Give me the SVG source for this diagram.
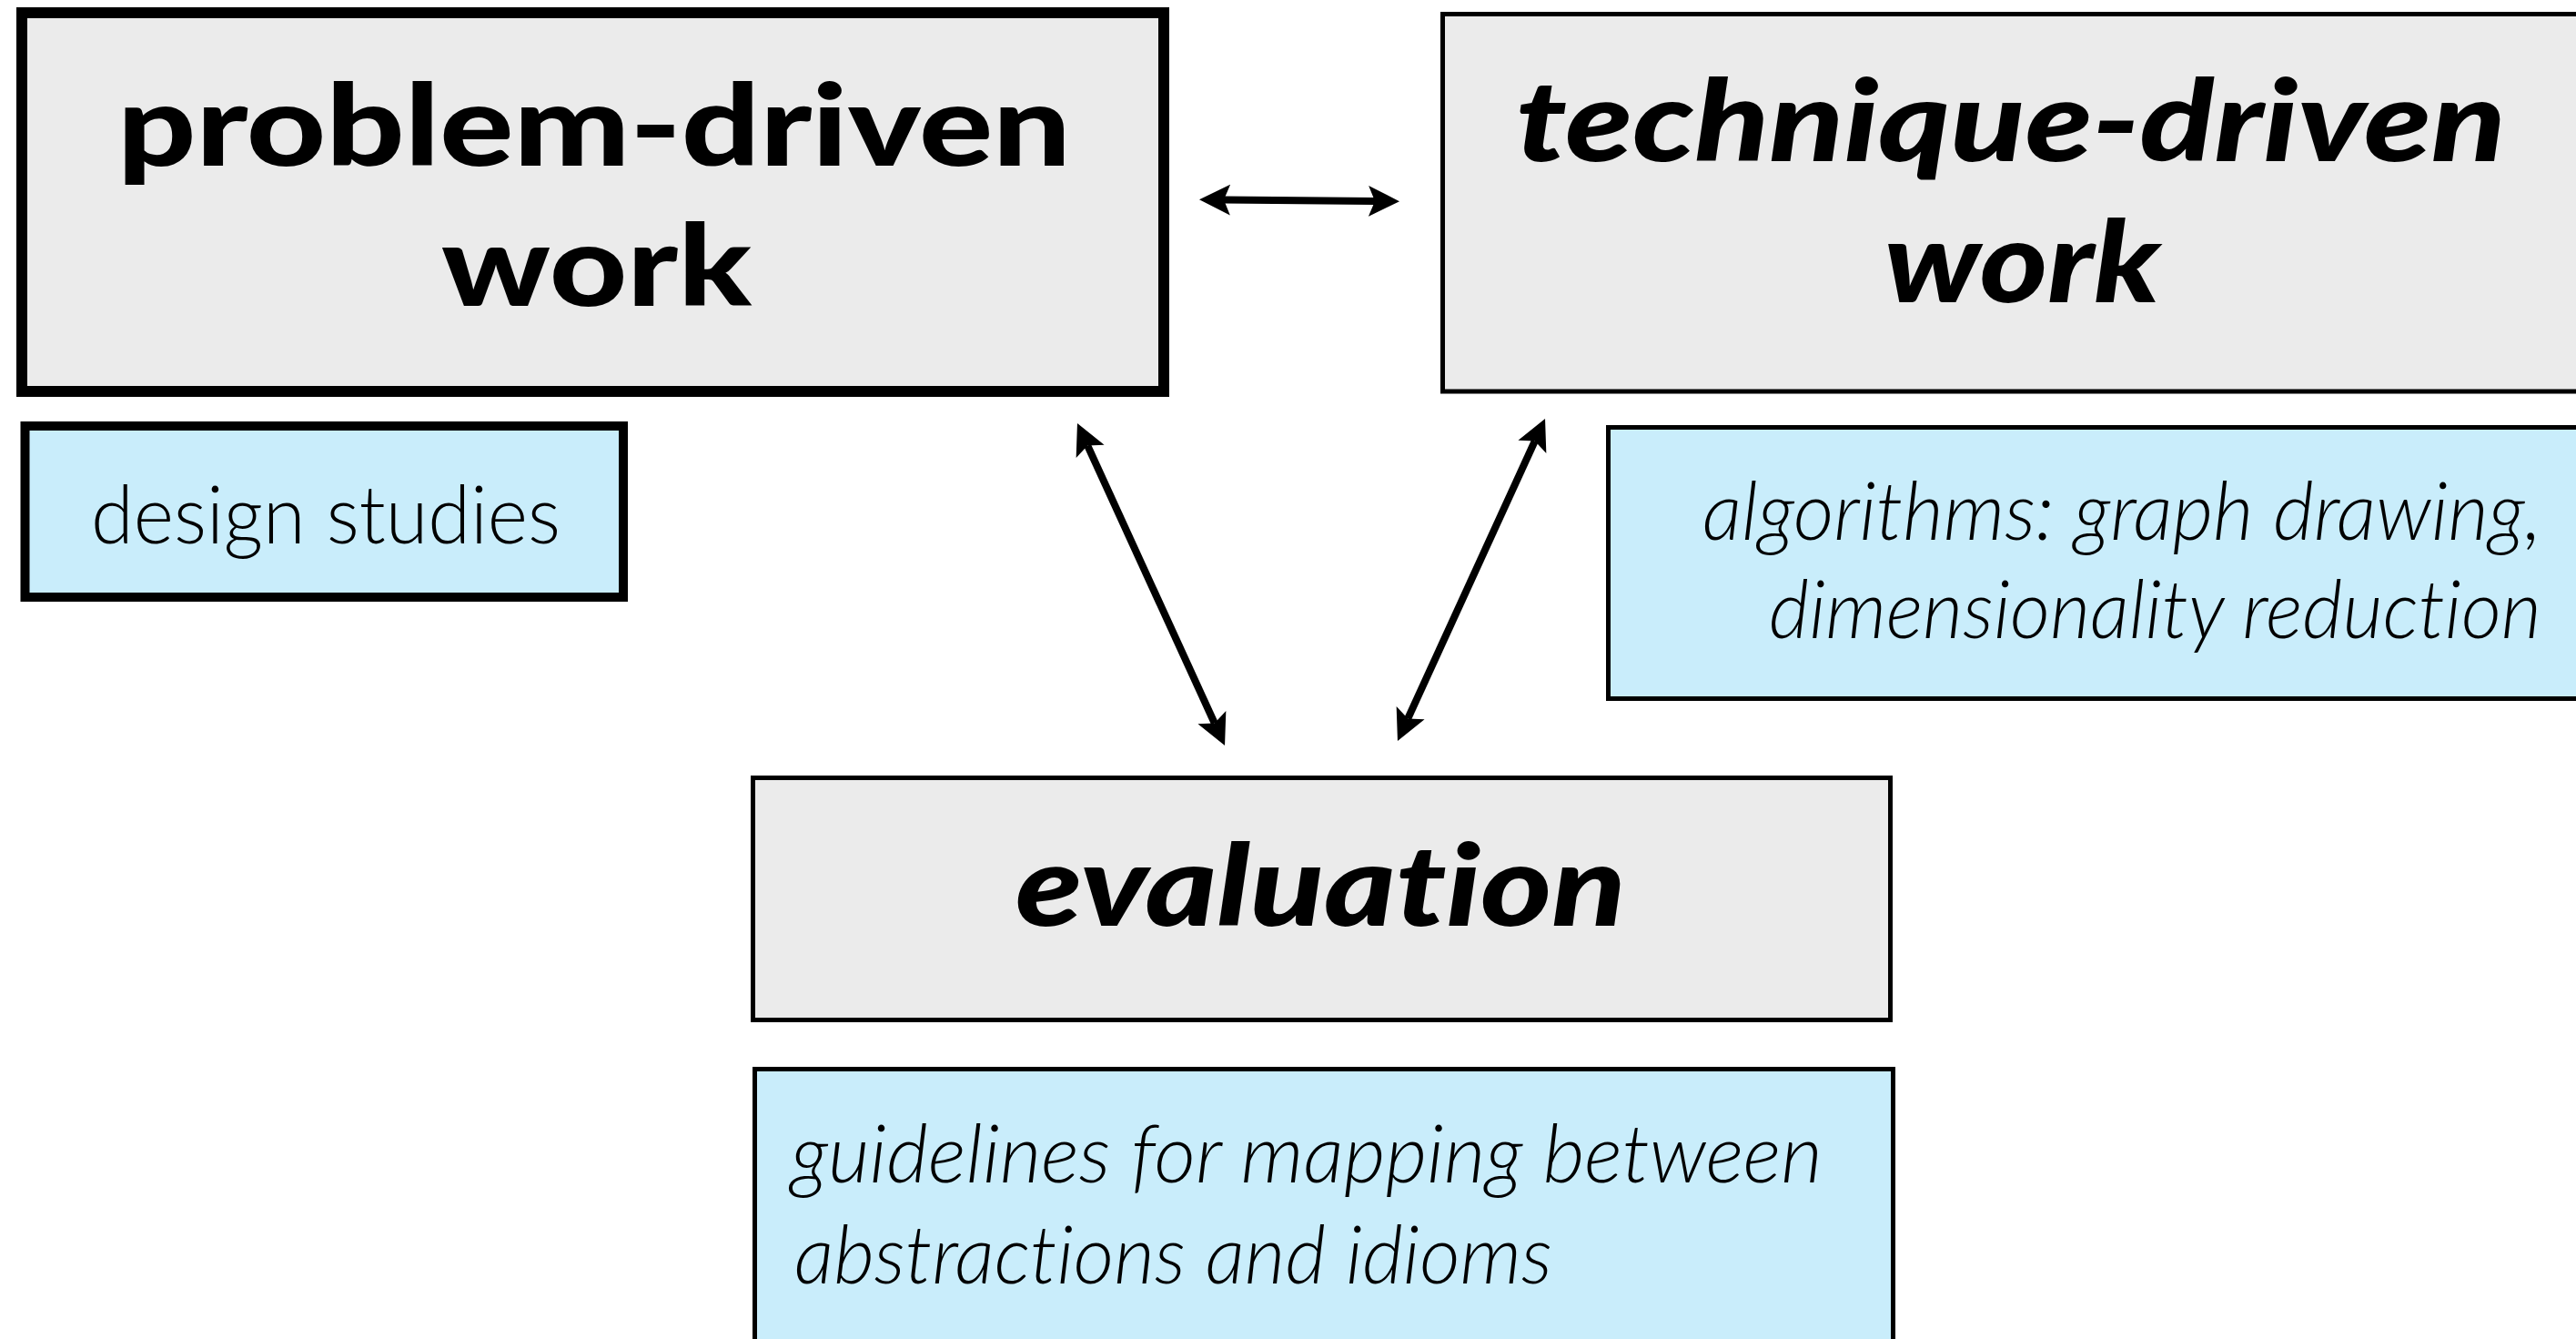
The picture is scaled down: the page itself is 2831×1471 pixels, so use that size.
<svg xmlns="http://www.w3.org/2000/svg" width="2831" height="1471" viewBox="0 0 2831 1471">
<style>
.gray{fill:#ebebeb;stroke:#000}
.blue{fill:#c9edfb;stroke:#000}
text{font-variant-ligatures:none;font-feature-settings:"liga" 0,"clig" 0,"dlig" 0}
.head{font-family:Lato,"Open Sans","Liberation Sans",sans-serif;font-weight:900;font-size:124px;fill:#000}
.it{font-style:italic}
.light{font-family:Lato,"Open Sans","Liberation Sans",sans-serif;font-weight:300;font-size:88px;fill:#000}
.conn{stroke:#000;stroke-width:8;fill:none;marker-start:url(#ah);marker-end:url(#ah)}
</style>
<defs>
<marker id="ah" markerUnits="userSpaceOnUse" markerWidth="40" markerHeight="40" viewBox="0 -20 40 40" refX="7" refY="0" orient="auto-start-reverse">
<path d="M34,0 L0,-17 L7,0 L0,17 Z" fill="#000"/>
</marker>
</defs>
<rect width="2831" height="1471" fill="#fff"/>
<g id="problem-driven">
<rect class="gray" x="24" y="14" width="1255" height="416" stroke-width="12"/>
<text class="head" x="129" y="182" textLength="1048" lengthAdjust="spacingAndGlyphs">problem-driven</text>
<text class="head" x="485" y="336" textLength="341" lengthAdjust="spacingAndGlyphs">work</text>
</g>
<g id="design-studies">
<rect class="blue" x="27.5" y="468" width="657.5" height="188" stroke-width="10"/>
<text class="light" x="100" y="597" textLength="516" lengthAdjust="spacingAndGlyphs">design studies</text>
</g>
<g id="technique-driven">
<rect class="gray" x="1585.5" y="15.5" width="1260" height="414.5" stroke-width="5"/>
<text class="head it" x="1666" y="177" textLength="1088" lengthAdjust="spacingAndGlyphs">technique-driven</text>
<text class="head it" x="2071" y="332" textLength="303" lengthAdjust="spacingAndGlyphs">work</text>
</g>
<g id="algorithms">
<rect class="blue" x="1767.5" y="469.5" width="1080" height="298" stroke-width="5"/>
<text class="light it" x="1871" y="593" textLength="922" lengthAdjust="spacingAndGlyphs">algorithms: graph drawing,</text>
<text class="light it" x="1944" y="701" textLength="849" lengthAdjust="spacingAndGlyphs">dimensionality reduction</text>
</g>
<g id="evaluation">
<rect class="gray" x="827.5" y="854.5" width="1250" height="266" stroke-width="5"/>
<text class="head it" x="1116" y="1017" textLength="671" lengthAdjust="spacingAndGlyphs">evaluation</text>
</g>
<g id="guidelines">
<rect class="blue" x="829.5" y="1174.5" width="1251" height="400" stroke-width="5"/>
<text class="light it" x="869" y="1299" textLength="1134" lengthAdjust="spacingAndGlyphs">guidelines for mapping between</text>
<text class="light it" x="873" y="1410" textLength="833" lengthAdjust="spacingAndGlyphs">abstractions and idioms</text>
</g>
<g id="connectors">
<line class="conn" x1="1345" y1="219.5" x2="1511" y2="221"/>
<line class="conn" x1="1195.2" y1="489.5" x2="1334.8" y2="794.5"/>
<line class="conn" x1="1686.8" y1="484.5" x2="1547.2" y2="789.5"/>
</g>
</svg>
